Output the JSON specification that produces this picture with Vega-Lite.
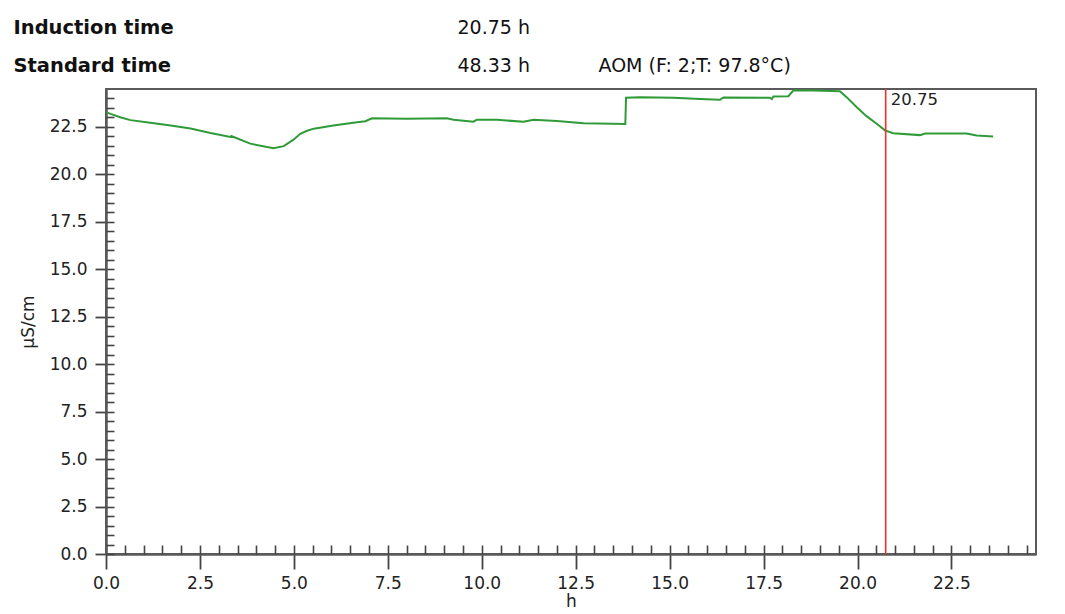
{
  "$schema": "https://vega.github.io/schema/vega-lite/v6.json",
  "background": "white",
  "autosize": {"type": "pad"},
  "padding": {"left": 13, "top": 18, "right": 28, "bottom": 2},
  "width": 930,
  "height": 465,
  "config": {
    "view": {"stroke": "#5a5a5a", "strokeWidth": 2},
    "font": "DejaVu Sans"
  },
  "datasets": {
    "series": [
      {"t": 0, "v": 23.28}, {"t": 0.12, "v": 23.19}, {"t": 0.4, "v": 23.0}, {"t": 0.65, "v": 22.86},
      {"t": 1.18, "v": 22.72}, {"t": 1.72, "v": 22.58}, {"t": 2.25, "v": 22.42}, {"t": 2.78, "v": 22.18},
      {"t": 3.31, "v": 21.97}, {"t": 3.34, "v": 22.03}, {"t": 3.4, "v": 21.97}, {"t": 3.84, "v": 21.62},
      {"t": 4.29, "v": 21.44}, {"t": 4.46, "v": 21.38}, {"t": 4.73, "v": 21.49}, {"t": 4.99, "v": 21.83},
      {"t": 5.17, "v": 22.14}, {"t": 5.35, "v": 22.3}, {"t": 5.53, "v": 22.41}, {"t": 6.05, "v": 22.58},
      {"t": 6.58, "v": 22.72}, {"t": 6.9, "v": 22.8}, {"t": 7.08, "v": 22.96}, {"t": 8.01, "v": 22.93},
      {"t": 9.07, "v": 22.96}, {"t": 9.25, "v": 22.88}, {"t": 9.78, "v": 22.78}, {"t": 9.87, "v": 22.88},
      {"t": 10.4, "v": 22.88}, {"t": 11.11, "v": 22.77}, {"t": 11.38, "v": 22.88}, {"t": 12.0, "v": 22.81},
      {"t": 12.71, "v": 22.7}, {"t": 13.82, "v": 22.66}, {"t": 13.84, "v": 24.04}, {"t": 14.22, "v": 24.07},
      {"t": 15.1, "v": 24.04}, {"t": 15.81, "v": 23.97}, {"t": 16.34, "v": 23.93}, {"t": 16.43, "v": 24.05},
      {"t": 17.67, "v": 24.04}, {"t": 17.72, "v": 23.97}, {"t": 17.76, "v": 24.1}, {"t": 18.16, "v": 24.12},
      {"t": 18.29, "v": 24.42}, {"t": 18.82, "v": 24.42}, {"t": 19.53, "v": 24.38}, {"t": 19.71, "v": 24.07},
      {"t": 19.98, "v": 23.54}, {"t": 20.24, "v": 23.07}, {"t": 20.51, "v": 22.67}, {"t": 20.73, "v": 22.32},
      {"t": 20.95, "v": 22.17}, {"t": 21.66, "v": 22.07}, {"t": 21.8, "v": 22.15}, {"t": 22.9, "v": 22.15},
      {"t": 23.17, "v": 22.05}, {"t": 23.61, "v": 22.0}
    ],
    "induction": [{"t": 20.75, "label": "20.75"}],
    "header": [
      {"row": 0, "col": 0, "text": "Induction time"},
      {"row": 0, "col": 1, "text": "20.75 h"},
      {"row": 1, "col": 0, "text": "Standard time"},
      {"row": 1, "col": 1, "text": "48.33 h"},
      {"row": 1, "col": 2, "text": "AOM (F: 2;T: 97.8°C)"}
    ]
  },
  "layer": [
    {
      "layer": [
        {
          "data": {"name": "series"},
          "mark": {"type": "line", "color": "#2e9b38", "strokeWidth": 2},
          "encoding": {
            "x": {
              "field": "t", "type": "quantitative",
              "scale": {"domain": [0, 24.75], "nice": false, "zero": false},
              "axis": {
                "values": [0, 2.5, 5, 7.5, 10, 12.5, 15, 17.5, 20, 22.5],
                "format": ".1f", "title": "h", "grid": false,
                "tickSize": 15, "tickWidth": 1.8, "tickColor": "#444",
                "domainColor": "#5a5a5a", "domainWidth": 2.5,
                "labelFont": "DejaVu Sans", "labelFontSize": 17, "labelColor": "#222",
                "labelPadding": 6, "labelFlush": false, "labelOverlap": false,
                "titleFont": "DejaVu Sans", "titleFontSize": 17, "titleFontWeight": "normal",
                "titleColor": "#222", "titlePadding": 2
              }
            },
            "y": {
              "field": "v", "type": "quantitative",
              "scale": {"domain": [0, 24.5], "nice": false, "zero": false},
              "axis": {
                "values": [0, 2.5, 5, 7.5, 10, 12.5, 15, 17.5, 20, 22.5],
                "format": ".1f", "title": "µS/cm", "grid": false,
                "tickSize": 11, "tickWidth": 1.8, "tickColor": "#444",
                "domainColor": "#5a5a5a", "domainWidth": 2.5,
                "labelFont": "DejaVu Sans", "labelFontSize": 17, "labelColor": "#222",
                "labelPadding": 8, "labelFlush": false, "labelOverlap": false,
                "titleFont": "DejaVu Sans", "titleFontSize": 17, "titleFontWeight": "normal",
                "titleColor": "#222", "titlePadding": 12
              }
            }
          }
        },
        {
          "data": {"name": "series"},
          "mark": {"type": "line", "opacity": 0},
          "encoding": {
            "x": {
              "field": "t", "type": "quantitative",
              "axis": {
                "orient": "bottom",
                "values": [0,0.5,1,1.5,2,2.5,3,3.5,4,4.5,5,5.5,6,6.5,7,7.5,8,8.5,9,9.5,10,10.5,11,11.5,12,12.5,13,13.5,14,14.5,15,15.5,16,16.5,17,17.5,18,18.5,19,19.5,20,20.5,21,21.5,22,22.5,23,23.5,24,24.5],
                "tickSize": -9, "tickWidth": 1.6, "tickColor": "#444",
                "labels": false, "domain": false, "grid": false, "title": null
              }
            },
            "y": {
              "field": "v", "type": "quantitative",
              "axis": {
                "orient": "left",
                "values": [0,0.5,1,1.5,2,2.5,3,3.5,4,4.5,5,5.5,6,6.5,7,7.5,8,8.5,9,9.5,10,10.5,11,11.5,12,12.5,13,13.5,14,14.5,15,15.5,16,16.5,17,17.5,18,18.5,19,19.5,20,20.5,21,21.5,22,22.5,23,23.5,24],
                "tickSize": -8, "tickWidth": 1.6, "tickColor": "#444",
                "labels": false, "domain": false, "grid": false, "title": null
              }
            }
          }
        },
        {
          "data": {"name": "induction"},
          "mark": {"type": "rule", "color": "#ff2a2a", "strokeWidth": 1.6},
          "encoding": {
            "x": {"field": "t", "type": "quantitative", "axis": null}
          }
        },
        {
          "data": {"name": "induction"},
          "mark": {"type": "text", "align": "left", "baseline": "top", "dx": 5, "dy": 3, "fontSize": 16.5, "font": "DejaVu Sans", "color": "#222"},
          "encoding": {
            "x": {"field": "t", "type": "quantitative", "axis": null},
            "y": {"datum": 24.5, "type": "quantitative", "axis": null},
            "text": {"field": "label"}
          }
        }
      ],
      "resolve": {"axis": {"x": "independent", "y": "independent"}}
    },
    {
      "data": {"name": "header"},
      "layer": [
        {
          "transform": [{"filter": "datum.col == 0"}],
          "mark": {"type": "text", "align": "left", "baseline": "alphabetic", "fontSize": 19.5, "fontWeight": "bold", "font": "DejaVu Sans", "color": "#111"},
          "encoding": {
            "x": {"field": "col", "type": "quantitative", "scale": {"domain": [0, 1, 2], "range": [-92.5, 351.5, 492.5], "nice": false, "zero": false}, "axis": null},
            "y": {"field": "row", "type": "quantitative", "scale": {"domain": [0, 1], "range": [-55, -17], "nice": false, "zero": false}, "axis": null},
            "text": {"field": "text"}
          }
        },
        {
          "transform": [{"filter": "datum.col > 0"}],
          "mark": {"type": "text", "align": "left", "baseline": "alphabetic", "fontSize": 19, "font": "DejaVu Sans", "color": "#111"},
          "encoding": {
            "x": {"field": "col", "type": "quantitative", "scale": {"domain": [0, 1, 2], "range": [-92.5, 351.5, 492.5], "nice": false, "zero": false}, "axis": null},
            "y": {"field": "row", "type": "quantitative", "scale": {"domain": [0, 1], "range": [-55, -17], "nice": false, "zero": false}, "axis": null},
            "text": {"field": "text"}
          }
        }
      ]
    }
  ],
  "resolve": {"scale": {"x": "independent", "y": "independent"}}
}
